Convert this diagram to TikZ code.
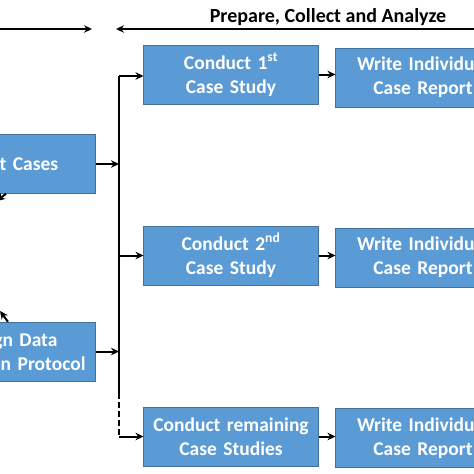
\documentclass[tikz,border=0pt]{standalone}
\usepackage{fontspec}
\setmainfont{Carlito}
\usepackage{tikz}
\usetikzlibrary{shapes.geometric, arrows, arrows.meta}
\definecolor{boxblue}{RGB}{91,155,213}
\definecolor{boxline}{RGB}{65,113,156}
\tikzstyle{process} = [rectangle, minimum width=170pt, minimum height=59pt, text width=168pt, align=center, draw=boxline, fill=boxblue, text=white, font=\bfseries\fontsize{19.5}{24}\selectfont]
\tikzstyle{phase} = [font=\bfseries\fontsize{20}{22}\selectfont, text=black]
\tikzstyle{arrow} = [line width=2pt,->,>={Stealth[length=8pt,width=7.5pt]}]
\tikzstyle{line} = [line width=2pt]

\begin{document}
\begin{tikzpicture}[node distance=181pt]
		\useasboundingbox (0pt,0pt) rectangle (474pt,-474pt);
		\clip (0pt,0pt) rectangle (474pt,-474pt);
		\node (con1) [process] at (231pt,-74.5pt) {Conduct 1\textsuperscript{st}\\Case Study};
		\node (con2) [process, below of=con1] {Conduct 2\textsuperscript{nd}\\Case Study};
		\node (con3) [process, below of=con2] {Conduct remaining\\Case Studies};
		\node (wr1) [process, right of=con1, xshift=11pt, yshift=-3pt] {Write Individual\\Case Report};
		\node (wr2) [process, right of=con2, xshift=11pt, yshift=-2pt] {Write Individual\\Case Report};
		\node (wr3) [process, right of=con3, xshift=11pt, yshift=-1.5pt] {Write Individual\\Case Report};
		\node (sel) [process, left of=con1, xshift=-42pt, yshift=-89.5pt] {Select Cases};
		\node (des) [process, below of=sel, yshift=-6.5pt] {Design Data\\Collection\,\,Protocol};
		
		\node (prep) [phase] at (328pt,-17pt) {Prepare, Collect and Analyze};
		\coordinate (def0) at (0pt,-29pt);
		\coordinate (def1) at (92pt,-29pt);
		\coordinate (prep0) at (474pt,-29pt);
		\coordinate (prep1) at (116pt,-29pt);
		\coordinate (bus) at (119pt,-76pt);
		\coordinate (busdash) at (119pt,-393pt);
		\coordinate (theory1) at (-3pt,-201pt);
		\coordinate (theory2) at (0pt,-311pt);
		
		\draw [arrow] (def0) -- (def1);
		\draw [arrow] (prep0) -- (prep1);
		\draw [line] (bus) -- (busdash);
		\draw [line, dash pattern=on 6pt off 3pt] (busdash) -- (busdash |- con3.west);
		\draw [arrow] (bus) -- (bus -| con1.west);
		\draw [arrow] (bus |- con2.west) -- (con2.west);
		\draw [arrow] (bus |- con3.west) -- (con3.west);
		\draw [arrow] (sel.east) -- (sel.east -| bus);
		\draw [arrow] (des.east) -- (des.east -| bus);
		\draw [arrow] (con1) -- (con1 -| wr1.west);
		\draw [arrow] (con2) -- (con2 -| wr2.west);
		\draw [arrow] (con3) -- (con3 -| wr3.west);
		\draw [arrow] ([xshift=-2pt]sel.south) -- (theory1);
		\draw [arrow] (des.north) -- (theory2);
		
		\end{tikzpicture}
\end{document}
